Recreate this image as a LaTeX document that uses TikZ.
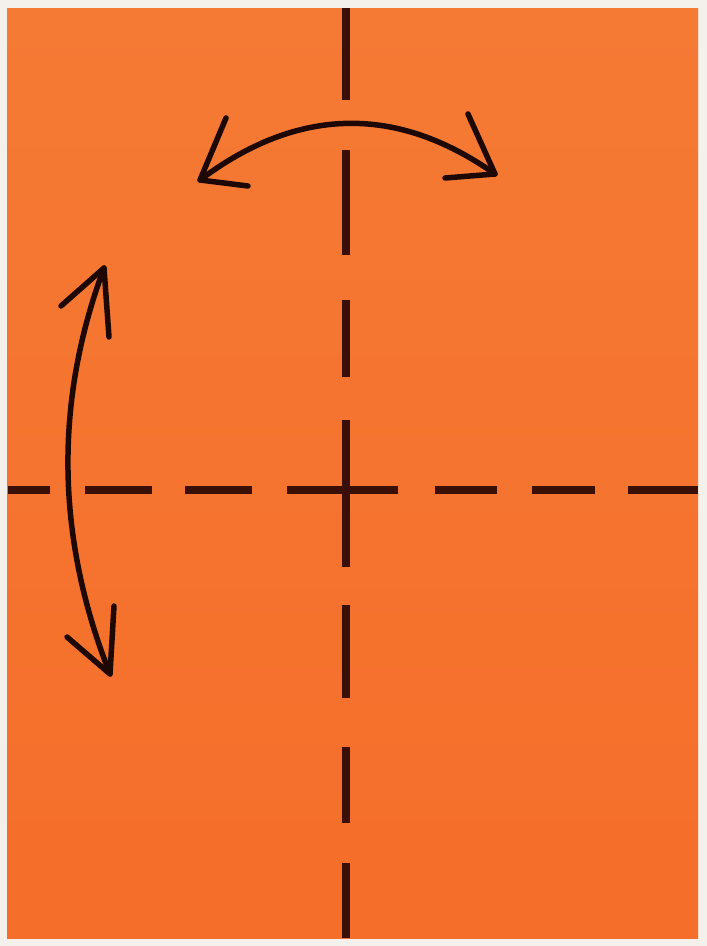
\documentclass[tikz,border=0pt]{standalone}
\begin{document}
\begin{tikzpicture}[x=1pt,y=-1pt,
  foldline/.style={line width=7.5pt,draw=creaseC},
  arrowline/.style={line width=5.5pt,draw=arrowC,line cap=round,line join=round}]
\definecolor{paperC}{RGB}{245,110,42}
\definecolor{paperL}{RGB}{245,122,52}
\definecolor{creaseC}{RGB}{58,16,6}
\definecolor{arrowC}{RGB}{30,8,4}
\definecolor{bgC}{RGB}{244,240,236}
\useasboundingbox (0,0) rectangle (707,946);
\fill[bgC] (0,0) rectangle (707,946);
\shade[top color=paperL,bottom color=paperC] (7,8) rectangle (698,938);
% vertical valley fold line
\foreach \a/\b in {8/100,150/255,300/377,420/567,605/698,747/823,863/938}
  \draw[foldline] (346,\a) -- (346,\b);
% horizontal valley fold line
\foreach \a/\b in {8/50,85/152,185/252,287/398,435/497,532/595,628/698}
  \draw[foldline] (\a,490) -- (\b,490);
% top arrow
\coordinate (tl) at (200,180);
\coordinate (tr) at (495,174);
\draw[arrowline] (tl) .. controls (297,107) and (396,104) .. (tr);
\draw[arrowline] (226,118) -- (tl) -- (248,186);
\draw[arrowline] (468,114) -- (tr) -- (445,178);
% left arrow
\coordinate (lt) at (104,268);
\coordinate (lb) at (110,674);
\draw[arrowline] (lt) .. controls (54,402) and (56,538) .. (lb);
\draw[arrowline] (61,306) -- (lt) -- (109,337);
\draw[arrowline] (67,637) -- (lb) -- (114,606);
\end{tikzpicture}
\end{document}
